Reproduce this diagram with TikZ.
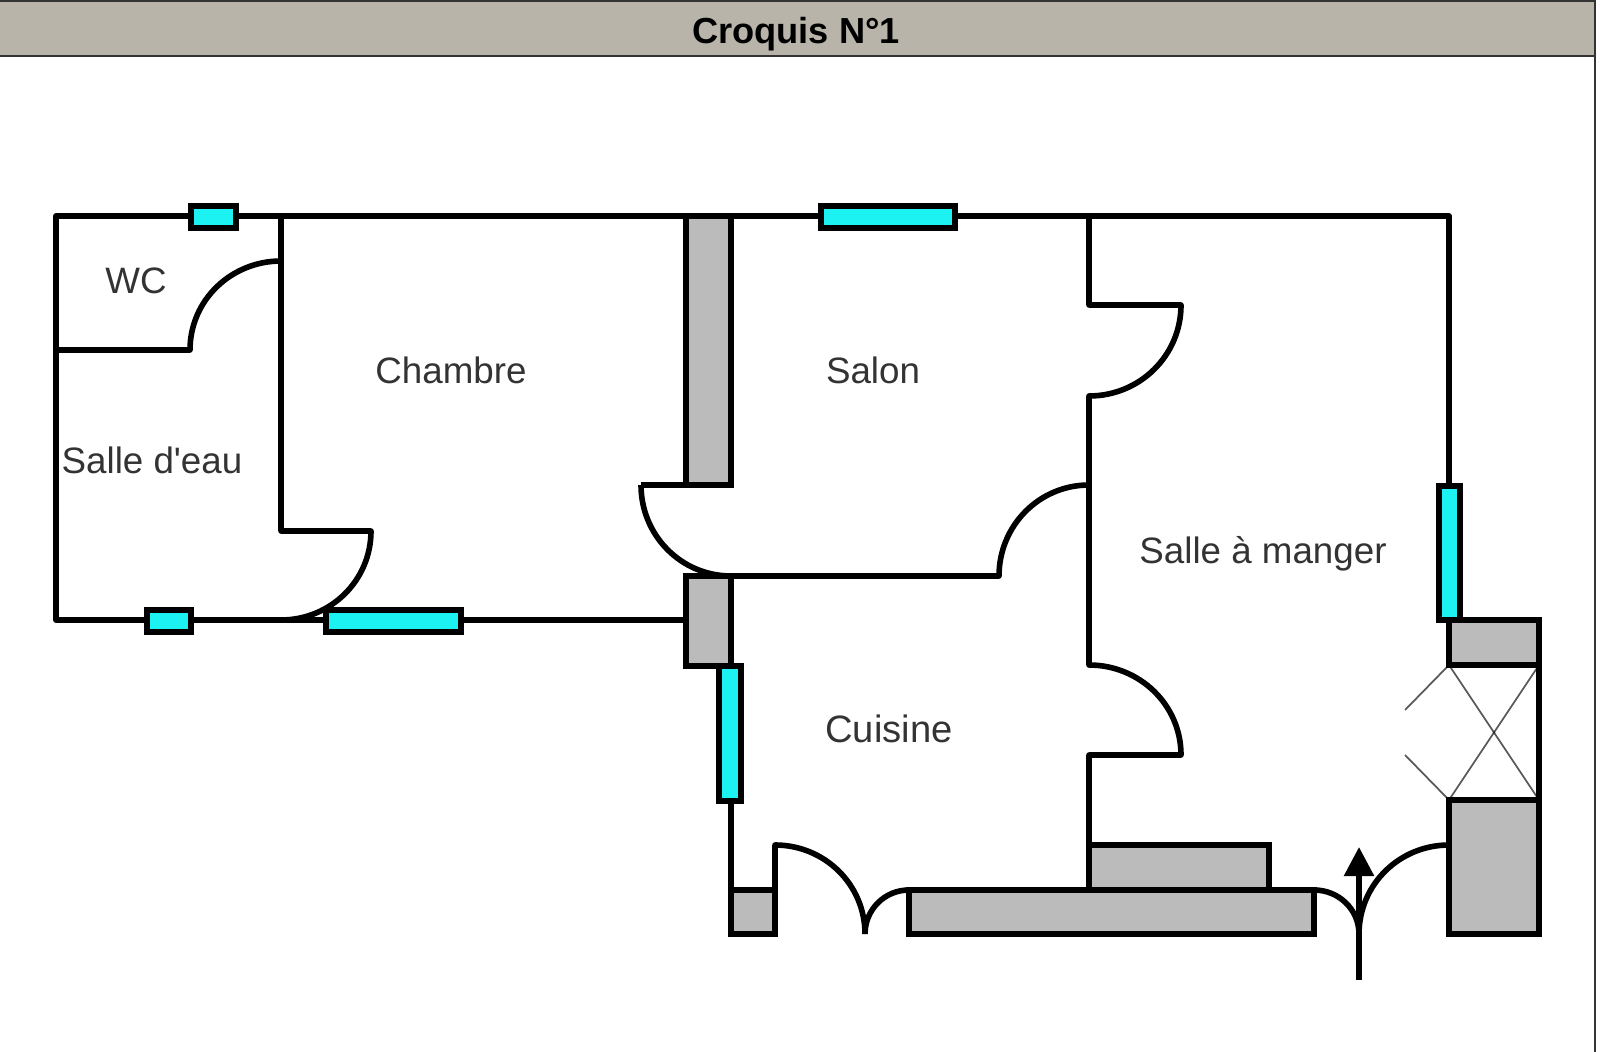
\documentclass[tikz,border=0pt]{standalone}
\usepackage{fontspec}
\setmainfont{Liberation Sans}
\usetikzlibrary{arrows.meta}
\definecolor{wincyan}{HTML}{1DF2F2}
\definecolor{blockgray}{HTML}{BBBBBB}
\definecolor{headgray}{HTML}{B8B4AA}
\definecolor{roomtext}{HTML}{333333}
\tikzset{
 wall/.style={black,line width=1.6pt,line join=round},
 block/.style={draw=black,fill=blockgray,line width=1.6pt},
 window/.style={draw=black,fill=wincyan,line width=1.6pt},
 swing/.style={black,line width=0.5pt,draw opacity=.65},
 room/.style={text=roomtext,font=\fontsize{10.45}{12}\selectfont,anchor=base,inner sep=0pt},
}
\begin{document}
\begin{tikzpicture}[x=0.01cm,y=0.01cm]
\useasboundingbox (0,0) rectangle (1600,-1052);
% header
\draw[black!80,line width=0.5pt] (1595,-56) -- (1595,-1052);
\draw[draw=black!80,fill=headgray,line width=0.5pt] (-5,-1) rectangle (1595,-56);
\node[anchor=base,inner sep=0pt,font=\bfseries\fontsize{10.3}{12}\selectfont] (title) at (796,-43.5) {Croquis N°1};
% outer and inner walls
\draw[wall] (56,-350) -- (190,-350) to[out=90,in=180] (281,-261);
\draw[wall] (281,-216) -- (56,-216) -- (56,-620) -- (686,-620);
\draw[wall] (56,-216) -- (1449,-216) -- (1449,-620);
\draw[wall] (281,-216) -- (281,-531) -- (371,-531) to[out=-90,in=0] (281,-620);
\draw[wall] (1089,-216) -- (1089,-305) -- (1181,-305) to[out=-90,in=0] (1089,-396) -- (1089,-665) to[out=0,in=90] (1181,-755) -- (1089,-755) -- (1089,-890);
\draw[wall] (641,-485) -- (731,-485);
\draw[wall] (641,-485) to[out=-90,in=180] (731,-576) -- (999,-576) to[out=90,in=180] (1089,-485);
\draw[wall] (731,-666) -- (731,-890);
% bearing blocks
\foreach \xa/\ya/\xb/\yb in {686/-216/731/-485, 686/-576/731/-666, 1089/-845/1269/-890, 909/-890/1314/-934, 731/-890/775/-934, 1449/-620/1539/-665, 1449/-800/1539/-934} {
 \draw[block] (\xa,\ya) rectangle (\xb,\yb);
}
% right bay
\draw[wall] (1539,-665) -- (1539,-800);
\draw[swing] (1405,-710) -- (1449,-665) -- (1539,-800);
\draw[swing] (1405,-755) -- (1449,-800) -- (1539,-665);
% windows
\foreach \xa/\ya/\xb/\yb in {191/-206/236/-228, 821/-206/955/-228, 147/-610/191/-632, 326/-610/461/-632, 719/-666/741/-801, 1439/-486/1460/-620} {
 \draw[window] (\xa,\ya) rectangle (\xb,\yb);
}
% doors at the bottom
\draw[wall] (775,-934) -- (775,-845) to[out=0,in=90] (865,-934);
\draw[wall] (909,-890) to[out=180,in=90] (865,-934);
\draw[wall] (1314,-890) to[out=0,in=90] (1359,-934);
\draw[wall] (1449,-845) to[out=180,in=90] (1359,-934);
\coordinate (entryfoot) at (1359,-980);
\coordinate (entrytip) at (1359,-847);
\draw[wall,-{Triangle[length=0.29cm,width=0.29cm]}] (entryfoot) -- (entrytip);
% rooms
\node[room] (wc) at (136,-294) {WC};
\node[room] (chambre) at (451,-384) {Chambre};
\node[room] (salon) at (873,-384) {Salon};
\node[room] (eau) at (152,-473) {Salle d\textquotesingle eau};
\node[room] (manger) at (1263,-563) {Salle à manger};
\node[room,font=\fontsize{10.85}{12}\selectfont] (cuisine) at (889,-742) {Cuisine};
\end{tikzpicture}
\end{document}
